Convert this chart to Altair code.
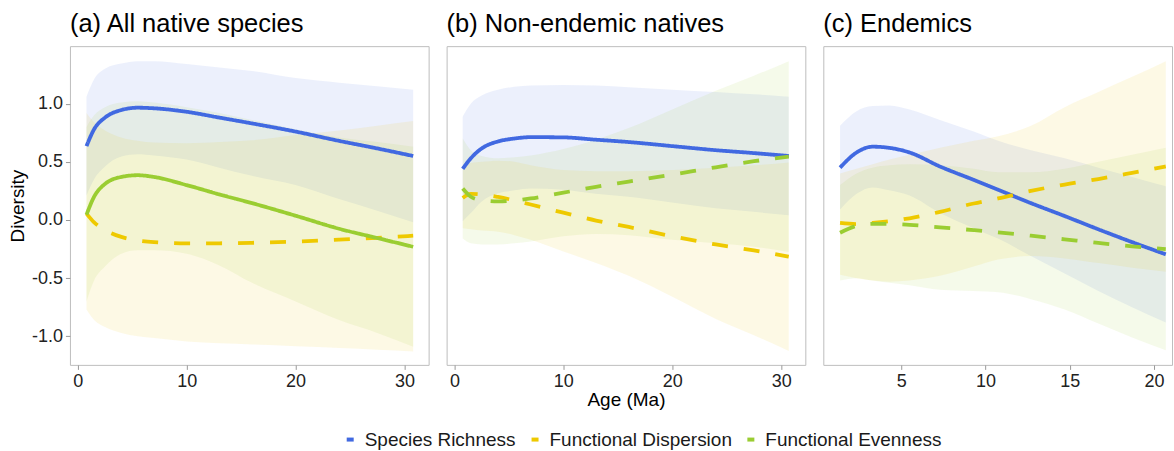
import altair as alt
import pandas as pd

SERIES = ["Species Richness", "Functional Dispersion", "Functional Evenness"]
COLORS = ["#4169E1", "#EEC900", "#9ACD32"]
FONT = "Liberation Sans"

# ---- (a) All native species -------------------------------------------
a_age = [0.8, 1.5, 2.5, 4, 5.5, 7, 10, 13, 16, 20, 24, 27.5, 30.8]
a_sr = [0.635, 0.78, 0.88, 0.945, 0.965, 0.96, 0.93, 0.88, 0.83, 0.76, 0.68, 0.615, 0.55]
a_sr_hi = [1.06, 1.21, 1.30, 1.345, 1.365, 1.365, 1.34, 1.31, 1.28, 1.22, 1.18, 1.15, 1.12]
a_sr_lo = [0.21, 0.35, 0.46, 0.545, 0.565, 0.555, 0.52, 0.45, 0.38, 0.30, 0.18, 0.08, -0.02]
a_fd = [0.055, -0.02, -0.085, -0.145, -0.175, -0.19, -0.20, -0.20, -0.196, -0.185, -0.169, -0.153, -0.135]
a_fd_hi = [0.92, 0.84, 0.77, 0.71, 0.68, 0.665, 0.66, 0.67, 0.685, 0.73, 0.77, 0.81, 0.85]
a_fd_lo = [-0.77, -0.86, -0.92, -0.97, -1.0, -1.015, -1.045, -1.06, -1.07, -1.085, -1.10, -1.115, -1.13]
a_fe = [0.045, 0.20, 0.31, 0.37, 0.385, 0.37, 0.30, 0.22, 0.145, 0.037, -0.075, -0.155, -0.23]
a_fe_hi = [0.80, 0.90, 0.97, 1.01, 1.02, 1.01, 0.97, 0.92, 0.86, 0.78, 0.71, 0.67, 0.63]
a_fe_lo = [-0.70, -0.52, -0.40, -0.29, -0.26, -0.26, -0.29, -0.39, -0.54, -0.70, -0.86, -0.97, -1.09]

# ---- (b) Non-endemic natives ------------------------------------------
b_age = [0.76, 1.5, 2.5, 4, 5.5, 7, 10, 13, 16, 20, 24, 27.5, 30.7]
b_sr = [0.44, 0.53, 0.615, 0.675, 0.70, 0.712, 0.71, 0.69, 0.67, 0.635, 0.60, 0.575, 0.55]
b_sr_hi = [0.89, 1.0, 1.07, 1.12, 1.145, 1.155, 1.16, 1.155, 1.14, 1.12, 1.10, 1.08, 1.06]
b_sr_lo = [-0.01, 0.06, 0.16, 0.23, 0.255, 0.27, 0.26, 0.225, 0.20, 0.15, 0.10, 0.07, 0.04]
b_fd = [0.19, 0.225, 0.22, 0.198, 0.168, 0.133, 0.063, -0.005, -0.06, -0.14, -0.21, -0.262, -0.315]
b_fd_hi = [0.47, 0.49, 0.50, 0.51, 0.50, 0.47, 0.43, 0.42, 0.42, 0.43, 0.45, 0.47, 0.495]
b_fd_lo = [-0.07, -0.08, -0.09, -0.10, -0.13, -0.17, -0.27, -0.37, -0.48, -0.66, -0.85, -0.99, -1.125]
b_fe = [0.27, 0.20, 0.17, 0.16, 0.168, 0.185, 0.235, 0.285, 0.33, 0.39, 0.453, 0.505, 0.545]
b_fe_hi = [0.70, 0.60, 0.55, 0.53, 0.54, 0.555, 0.61, 0.69, 0.79, 0.95, 1.11, 1.24, 1.365]
b_fe_lo = [-0.16, -0.20, -0.21, -0.21, -0.20, -0.185, -0.14, -0.12, -0.13, -0.17, -0.20, -0.23, -0.275]

# ---- (c) Endemics -----------------------------------------------------
c_age = [1.37, 2.35, 3.3, 4.3, 5.5, 7.3, 9.3, 10.75, 12.7, 14.7, 16.7, 18.7, 20.7]
c_sr = [0.45, 0.58, 0.63, 0.62, 0.58, 0.46, 0.345, 0.26, 0.145, 0.034, -0.08, -0.19, -0.295]
c_sr_hi = [0.81, 0.935, 0.98, 0.985, 0.95, 0.86, 0.76, 0.68, 0.60, 0.53, 0.45, 0.37, 0.29]
c_sr_lo = [0.09, 0.225, 0.28, 0.255, 0.21, 0.06, -0.07, -0.16, -0.31, -0.46, -0.61, -0.75, -0.88]
c_fd = [-0.025, -0.035, -0.025, -0.01, 0.015, 0.07, 0.142, 0.185, 0.25, 0.305, 0.352, 0.405, 0.46]
c_fd_hi = [0.40, 0.44, 0.48, 0.52, 0.56, 0.62, 0.68, 0.72, 0.81, 0.97, 1.10, 1.23, 1.365]
c_fd_lo = [-0.47, -0.50, -0.52, -0.53, -0.52, -0.48, -0.40, -0.34, -0.31, -0.33, -0.37, -0.41, -0.445]
c_fe = [-0.11, -0.05, -0.033, -0.033, -0.041, -0.063, -0.087, -0.106, -0.135, -0.166, -0.197, -0.226, -0.25]
c_fe_hi = [0.30, 0.40, 0.45, 0.47, 0.48, 0.47, 0.44, 0.41, 0.41, 0.44, 0.50, 0.56, 0.62]
c_fe_lo = [-0.52, -0.50, -0.52, -0.54, -0.56, -0.60, -0.61, -0.62, -0.68, -0.77, -0.89, -1.01, -1.12]

# line style per panel: solid = clear trend, dashed = weak trend
a_style = ["solid", "dashed", "solid"]
b_style = ["solid", "dashed", "dashed"]
c_style = ["solid", "dashed", "dashed"]


def long_table(age, curves, styles):
    rows = []
    for name, (fit, lo, hi), style in zip(SERIES, curves, styles):
        for x, f, l, h in zip(age, fit, lo, hi):
            rows.append({"age": x, "fit": f, "lo": l, "hi": h,
                         "series": name, "style": style})
    return pd.DataFrame(rows)


df_a = long_table(a_age, [(a_sr, a_sr_lo, a_sr_hi), (a_fd, a_fd_lo, a_fd_hi),
                          (a_fe, a_fe_lo, a_fe_hi)], a_style)
df_b = long_table(b_age, [(b_sr, b_sr_lo, b_sr_hi), (b_fd, b_fd_lo, b_fd_hi),
                          (b_fe, b_fe_lo, b_fe_hi)], b_style)
df_c = long_table(c_age, [(c_sr, c_sr_lo, c_sr_hi), (c_fd, c_fd_lo, c_fd_hi),
                          (c_fe, c_fe_lo, c_fe_hi)], c_style)

Y_DOMAIN = [-1.245, 1.494]
HEIGHT = 319

color_scale = alt.Scale(domain=SERIES, range=COLORS)
# same mapping, listed in reverse so the band scale stays out of the line legend
band_scale = alt.Scale(domain=SERIES[::-1], range=COLORS[::-1])
dash_scale = alt.Scale(domain=["solid", "dashed"], range=[[1, 0], [16, 16]])

y_label_expr = ("datum.value < 0 ? '-' + format(abs(datum.value), '.1f') "
                ": format(datum.value, '.1f')")


def panel(df, title, xdomain, xticks, width, show_y, xtitle):
    x_axis = alt.Axis(values=xticks, title=xtitle, titleX=width / 2, titleY=41,
                      titleBaseline="alphabetic", titleAlign="center")
    x = alt.X("age:Q", scale=alt.Scale(domain=xdomain, nice=False, zero=False),
              axis=x_axis)
    if show_y:
        y_axis = alt.Axis(values=[-1, -0.5, 0, 0.5, 1], labelExpr=y_label_expr,
                          title="Diversity", titleAngle=-90, titleX=-46,
                          titleY=HEIGHT / 2, titleAlign="center",
                          titleBaseline="alphabetic")
    else:
        y_axis = None
    yscale = alt.Scale(domain=Y_DOMAIN, nice=False, zero=False)
    base = alt.Chart(df)
    bands = base.mark_area(opacity=0.1, interpolate="monotone").encode(
        x=x,
        y=alt.Y("lo:Q", scale=yscale, axis=y_axis),
        y2="hi:Q",
        fill=alt.Fill("series:N", scale=band_scale, legend=None),
    )
    lines = base.mark_line(strokeWidth=3.8, interpolate="monotone").encode(
        x=x,
        y=alt.Y("fit:Q", scale=yscale, axis=y_axis),
        color=alt.Color("series:N", scale=color_scale),
        strokeDash=alt.StrokeDash("style:N", scale=dash_scale, legend=None),
    )
    return alt.layer(bands, lines).properties(
        width=width, height=HEIGHT,
        title=alt.Title(title, anchor="start", frame="group",
                        baseline="alphabetic", offset=-11.5),
    )


pa = panel(df_a, "(a) All native species", [-0.72, 32.22], [0, 10, 20, 30], 359, True, None)
pb = panel(df_b, "(b) Non-endemic natives", [-0.72, 32.22], [0, 10, 20, 30], 359, False, "Age (Ma)")
pc = panel(df_c, "(c) Endemics", [0.376, 21.07], [5, 10, 15, 20], 349, False, None)

chart = (
    alt.hconcat(pa, pb, pc, spacing=18, bounds="flush")
    .properties(
        autosize=alt.AutoSizeParams(type="pad"),
        padding={"left": 8, "top": 11, "right": 0, "bottom": 0},
    )
    .configure_view(stroke="#BEBEBE", strokeWidth=1)
    .configure_axis(
        grid=False, domain=False, tickColor="#999999", tickSize=4.5, tickWidth=1,
        labelFont=FONT, labelFontSize=18, labelColor="#222222", labelPadding=3,
        titleFont=FONT, titleFontSize=19, titleColor="#000000", titleFontWeight="normal",
    )
    .configure_title(font=FONT, fontSize=25.5, fontWeight="normal", color="#000000")
    .configure_legend(
        title=None, orient="none", direction="horizontal",
        legendX=271, legendY=384,
        symbolType="stroke", symbolStrokeWidth=4, symbolSize=49,
        labelFont=FONT, labelFontSize=19, labelColor="#1A1A1A", labelLimit=400,
        labelOffset=5, columnPadding=7,
    )
)

chart.save("out.html", embed_options={"renderer": "svg", "actions": False})
